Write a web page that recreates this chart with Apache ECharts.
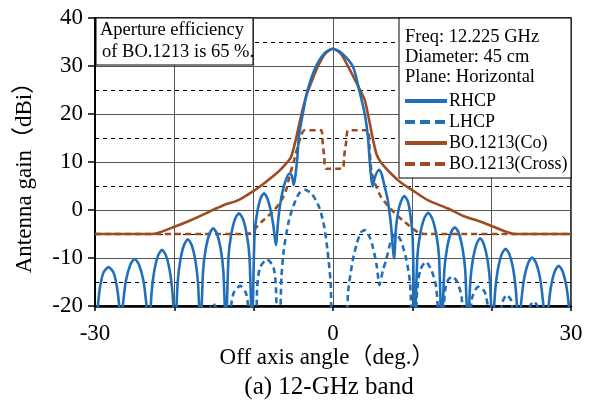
<!DOCTYPE html>
<html>
<head>
<meta charset="utf-8">
<script src="https://cdn.jsdelivr.net/npm/echarts@6/dist/echarts.min.js"></script>
<style>
    html, body { margin: 0; padding: 0; background: #fff; }
    #chart { width: 589px; height: 407px; }
</style>
</head>
<body>
<div id="chart"></div>
<script>
var xTicks = [-30, 0, 30]
var yTicks = [-20, -10, 0, 10, 20, 30, 40]

var noteLines = ['Aperture efficiency', 'of BO.1213 is 65 %.']
var infoLines = ['Freq: 12.225 GHz', 'Diameter: 45 cm', 'Plane: Horizontal']
var names = ['RHCP', 'LHCP', 'BO.1213(Co)', 'BO.1213(Cross)']

// [angle, gain], nulls run below -20 and get clipped
var rhcp = [
    [-30, -25], [-29.7, -21], [-29.4, -16.4], [-28.95, -13.1], [-28.3, -11.9], [-27.65, -13.1], [-27.2, -16.4], [-26.9, -21], [-26.8, -25],
    [-26.45, -19.2], [-26.1, -14.7], [-25.55, -11.4], [-25.0, -10.2], [-24.45, -11.4], [-23.9, -14.7], [-23.55, -19.2], [-23.2, -25],
    [-22.87, -17.3], [-22.54, -12.8], [-22.05, -9.5], [-21.55, -8.3], [-21.05, -9.5], [-20.56, -12.8], [-20.23, -17.3], [-19.9, -25],
    [-19.58, -15.1], [-19.26, -10.6], [-18.78, -7.3], [-18.3, -6.1], [-17.82, -7.3], [-17.34, -10.6], [-17.02, -15.1], [-16.7, -25],
    [-16.38, -12.8], [-16.06, -8.3], [-15.58, -5.0], [-15.1, -3.8], [-14.62, -5.0], [-14.14, -8.3], [-13.82, -12.8], [-13.5, -25],
    [-13.17, -9.7], [-12.84, -5.2], [-12.35, -1.9], [-11.85, -0.7], [-11.35, -1.9], [-10.86, -5.2], [-10.53, -9.7], [-10.2, -25],
    [-9.9, -5.5], [-9.6, -1.0], [-9.15, 2.3], [-8.7, 3.5], [-8.25, 2.3], [-7.8, -0.5], [-7.5, -3.5], [-7.2, -7.3],
    [-6.9, -2], [-6.6, 1.8], [-6.1, 5.5], [-5.5, 7.6], [-5.2, 7.2], [-4.95, 5.2], [-4.75, 7], [-4.5, 10.8], [-4.3, 15.3],
    [-3.8, 20.1], [-3.2, 25], [-2.15, 29.9], [-1, 32.8], [0, 33.6], [1, 32.8], [2.5, 29.9], [3.3, 25], [4.0, 20], [4.4, 15.3],
    [4.6, 10.8], [4.8, 6.9], [5.0, 4.9], [5.3, 6.9], [5.8, 8.4], [6.1, 7.6], [6.5, 5], [6.9, 2.1], [7.3, -3], [7.7, -10.1],
    [7.95, -3.5], [8.2, -0.5], [8.55, 1.7], [9.0, 2.9], [9.45, 1.7], [9.8, -1.6], [10.05, -6.1], [10.3, -25],
    [10.64, -9.6], [10.98, -5.1], [11.49, -1.8], [12.0, -0.6], [12.51, -1.8], [13.02, -5.1], [13.36, -9.6], [13.7, -25],
    [14.03, -12.6], [14.36, -8.1], [14.85, -4.8], [15.35, -3.6], [15.85, -4.8], [16.34, -8.1], [16.67, -12.6], [17.0, -25],
    [17.31, -14.9], [17.62, -10.4], [18.09, -7.1], [18.55, -5.9], [19.01, -7.1], [19.48, -10.4], [19.79, -14.9], [20.1, -25],
    [20.43, -17.1], [20.76, -12.6], [21.25, -9.3], [21.75, -8.1], [22.25, -9.3], [22.74, -12.6], [23.07, -17.1], [23.4, -25],
    [23.74, -18.9], [24.08, -14.4], [24.59, -11.1], [25.1, -9.9], [25.61, -11.1], [26.12, -14.4], [26.46, -18.9], [26.8, -25],
    [27.13, -20.6], [27.46, -16.1], [27.95, -12.8], [28.45, -11.6], [28.95, -12.8], [29.44, -16.1], [29.77, -20.6], [30, -25]
]

var lhcp = [
    [-30, -25], [-16, -25], [-15.6, -21], [-15.1, -19.5], [-14.6, -21], [-14.2, -25],
    [-13.1, -25], [-12.85, -20], [-12.5, -17.2], [-11.7, -15.8], [-11.0, -17.2], [-10.7, -20], [-10.5, -25],
    [-9.8, -25], [-9.55, -16], [-9.2, -12], [-8.3, -10.3], [-7.5, -12], [-7.2, -16], [-7.0, -25],
    [-6.75, -25], [-6.5, -14], [-6.2, -8.3], [-5.6, -2.5], [-5.1, 0.35], [-4.3, 3.4], [-3.5, 4.2], [-2.6, 3.2],
    [-1.7, 0.4], [-1.1, -3.5], [-0.7, -8.3], [-0.3, -15], [0, -25],
    [1.6, -25], [1.9, -17], [2.5, -10.4], [3.0, -7], [3.5, -4.7], [4.0, -4.2], [4.5, -5.2], [5.0, -7.6], [5.5, -11.5],
    [5.86, -15.6], [6.3, -12.5], [6.7, -10.4], [7.3, -6.5], [7.9, -5.0], [8.5, -6.2], [9.2, -10], [9.7, -15], [10.05, -25],
    [10.35, -25], [10.6, -17], [11.0, -12.5], [11.7, -10.8], [12.4, -12.5], [13.0, -16], [13.5, -25],
    [13.8, -25], [14.1, -17], [14.5, -14.6], [15.0, -13.9], [15.6, -14.8], [16.2, -18], [16.5, -25],
    [17.2, -25], [17.5, -18.5], [18.3, -16], [19.1, -17], [19.6, -21], [19.8, -25],
    [21.0, -25], [21.3, -19.5], [21.9, -17.7], [22.5, -19], [22.9, -25],
    [24.5, -25], [24.8, -20.2], [25.3, -19.1], [25.8, -20.2], [26.1, -25], [30, -25]
]

var boCo = [
    [-30, -5], [-22.8, -5], [-20, -3.5], [-18, -2.2], [-15, 0.1], [-13.8, 1.0], [-12, 2.0], [-10, 4.0], [-8.5, 5.8],
    [-7, 7.8], [-6, 9.5], [-5.3, 11.0], [-4.7, 14.6], [-4.05, 19.4], [-3.4, 23.6], [-2.8, 26.3], [-2.0, 29.6],
    [-1, 32.5], [0, 33.6], [1, 32.5], [2.0, 29.6], [3.1, 26.0], [4.0, 22.9], [4.8, 16.7], [5.45, 11.8], [6, 10],
    [7.3, 7.6], [8.5, 5.8], [10.3, 3.8], [12, 2.0], [14.5, 0.3], [16.5, -1.3], [18.7, -2.5], [21, -4.0], [22.9, -5], [30, -5]
]

var boCross = [
    [-30, -5], [-10.8, -5], [-9.1, -2.6], [-7.4, 0], [-6.4, 2.3], [-5.9, 4.2], [-5.5, 6.9], [-4.9, 10.4], [-4.4, 13.5],
    [-4.0, 15.6], [-3.6, 16.6], [-1.5, 16.6], [-1.3, 14], [-1.1, 11], [-0.9, 8.6], [1.2, 8.6], [1.4, 11.1], [1.65, 14],
    [1.95, 16.6], [4.4, 16.6], [4.6, 13], [4.85, 8], [5.3, 5.5], [6.1, 2.6], [7.7, -0.5], [9.6, -3.3], [10.7, -4.6],
    [11.5, -5], [30, -5]
]

var blue = '#1f6fba'
var brown = '#9e4b22'
var serif = '"Liberation Serif", "Noto Sans CJK JP", serif'

var chart = echarts.init(document.getElementById('chart'))

var mkLine = function (name, data, color, type, z) {
    return {
        name: name,
        type: 'line',
        data: data,
        symbol: 'none',
        smooth: 0.25,
        z: z,
        lineStyle: { color: color, width: 2.6, type: type === 'dashed' ? [6, 4] : 'solid' },
        itemStyle: { color: color }
    }
}

var legendItems = names.map(function (n, i) {
    var item = { name: n }
    if (i % 2 === 1) item.lineStyle = { type: [10, 5] }
    return item
})

var option = {
    animation: false,
    grid: { left: 95, right: 18, top: 18, bottom: 101, show: true, borderColor: '#000', borderWidth: 1.5 },
    xAxis: {
        type: 'value', min: -30, max: 30, interval: 10,
        axisLine: { onZero: false, lineStyle: { color: '#000', width: 2.5 } },
        axisTick: { show: true, length: 5, lineStyle: { color: '#000', width: 1.5 } },
        axisLabel: {
            margin: 16, fontSize: 23, color: '#000', fontFamily: serif,
            formatter: function (v) { return xTicks.indexOf(v) >= 0 ? String(v) : '' }
        },
        splitLine: { show: true, lineStyle: { color: '#555', width: 1 } }
    },
    yAxis: {
        type: 'value', min: -20, max: 40, interval: 10,
        axisLine: { show: true, onZero: false, lineStyle: { color: '#000', width: 2 } },
        axisTick: { show: true, length: 7, lineStyle: { color: '#000', width: 1.5 } },
        axisLabel: {
            margin: 12, fontSize: 23, color: '#000', fontFamily: serif,
            formatter: function (v) { return yTicks.indexOf(v) >= 0 ? String(v) : '' }
        },
        splitLine: { show: true, lineStyle: { color: '#555', width: 1 } },
        minorTick: { show: false, splitNumber: 2 },
        minorSplitLine: { show: true, lineStyle: { color: '#000', width: 1, type: [4, 4] } }
    },
    legend: {
        data: legendItems,
        orient: 'vertical',
        left: 403, top: 92,
        itemWidth: 42, itemHeight: 14, itemGap: 3,
        padding: 0,
        z: 20,
        itemStyle: { opacity: 0 },
        lineStyle: { width: 4 },
        textStyle: { fontSize: 18, color: '#000', fontFamily: serif, padding: [0, 0, 0, -3] }
    },
    graphic: [
        { type: 'rect', z: 10, shape: { x: 96, y: 18, width: 157, height: 47 }, style: { fill: '#fff', stroke: '#000', lineWidth: 1 } },
        { type: 'text', z: 11, left: 100, top: 21, style: { text: noteLines[0], fontSize: 18.5, fill: '#000', fontFamily: serif } },
        { type: 'text', z: 11, left: 102, top: 43, style: { text: noteLines[1], fontSize: 18.5, fill: '#000', fontFamily: serif } },
        { type: 'rect', z: 10, shape: { x: 399, y: 18, width: 172, height: 160 }, style: { fill: '#fff', stroke: '#000', lineWidth: 1 } },
        { type: 'text', z: 11, left: 405, top: 28, style: { text: infoLines[0], fontSize: 18.5, fill: '#000', fontFamily: serif } },
        { type: 'text', z: 11, left: 405, top: 48, style: { text: infoLines[1], fontSize: 18.5, fill: '#000', fontFamily: serif } },
        { type: 'text', z: 11, left: 405, top: 68, style: { text: infoLines[2], fontSize: 18.5, fill: '#000', fontFamily: serif } },
        { type: 'text', z: 11, x: 327, y: 358, style: { text: 'Off axis angle（deg.）', fontSize: 23, fill: '#000', fontFamily: serif, align: 'center', verticalAlign: 'middle' } },
        { type: 'text', z: 11, x: 329, y: 387, style: { text: '(a) 12-GHz band', fontSize: 25, fill: '#000', fontFamily: serif, align: 'center', verticalAlign: 'middle' } },
        {
            type: 'text', z: 11, x: 25, y: 172, rotation: Math.PI / 2,
            style: { text: 'Antenna gain（dBi）', fontSize: 23, fill: '#000', fontFamily: serif, align: 'center', verticalAlign: 'middle' }
        }
    ],
    series: [
        mkLine(names[0], rhcp, blue, 'solid', 6),
        mkLine(names[1], lhcp, blue, 'dashed', 5),
        mkLine(names[2], boCo, brown, 'solid', 4),
        mkLine(names[3], boCross, brown, 'dashed', 3)
    ]
}

chart.setOption(option)
</script>
</body>
</html>
